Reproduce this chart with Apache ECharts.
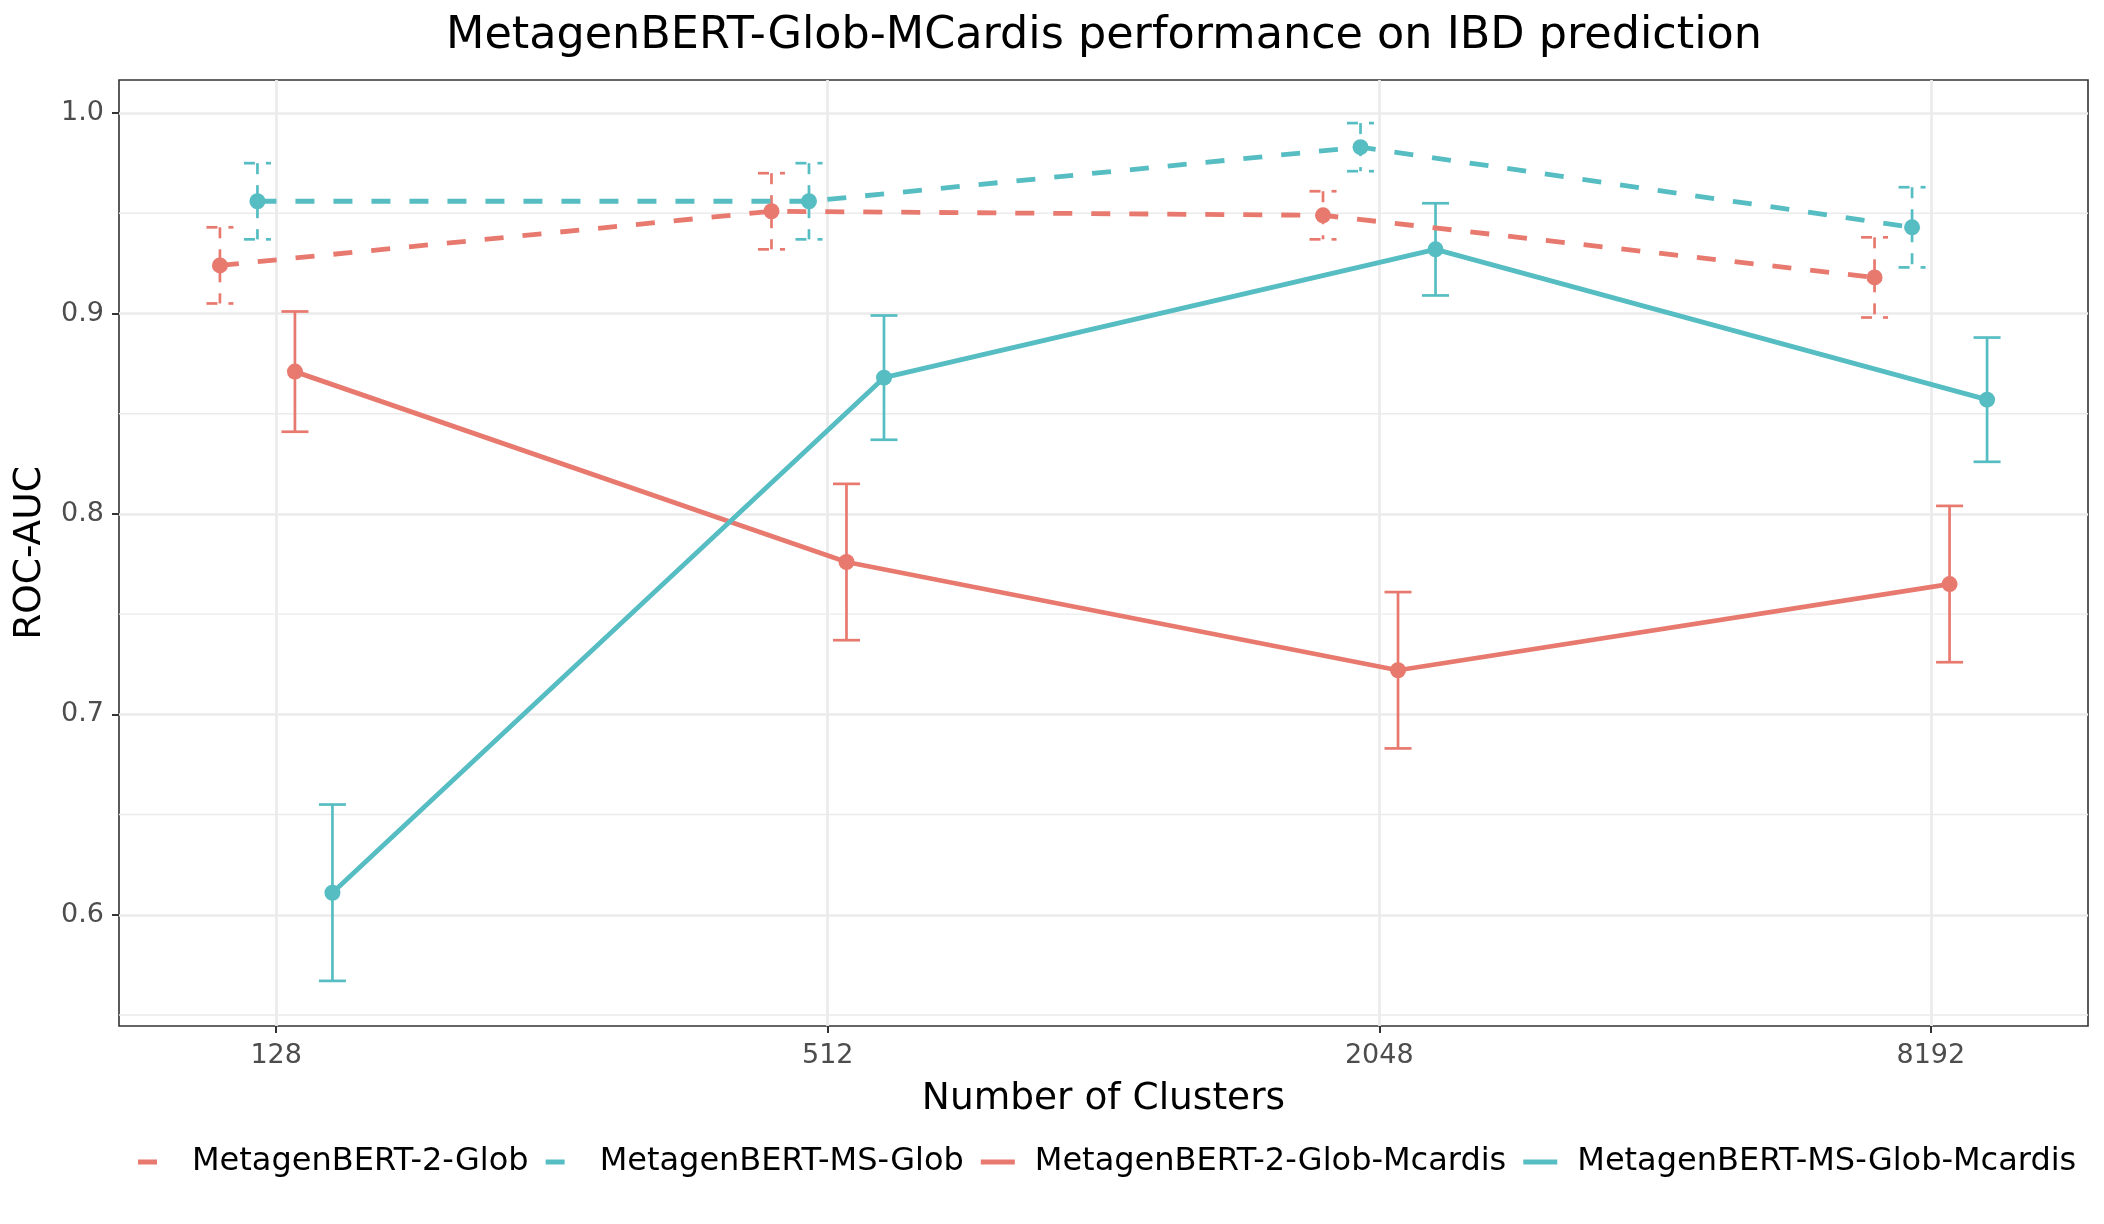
<!DOCTYPE html>
<html><head><meta charset="utf-8">
<script src="https://cdn.jsdelivr.net/npm/echarts@6.0.0/dist/echarts.min.js"></script>
<style>html,body{margin:0;padding:0;background:#fff}#c{width:2104px;height:1224px}</style>
</head><body><div id="c"></div>
<script>
// ---------- data ----------
const categories = ['128', '512', '2048', '8192'];
const yTicks = [0.6, 0.7, 0.8, 0.9, 1.0];
const yMinorTicks = [0.55, 0.65, 0.75, 0.85, 0.95];
const seriesNames = ['MetagenBERT-2-Glob', 'MetagenBERT-MS-Glob', 'MetagenBERT-2-Glob-Mcardis', 'MetagenBERT-MS-Glob-Mcardis'];
const mean2Glob = [0.924, 0.951, 0.949, 0.918];
const err2Glob = [0.019, 0.019, 0.012, 0.020];
const meanMSGlob = [0.956, 0.956, 0.983, 0.943];
const errMSGlob = [0.019, 0.019, 0.012, 0.020];
const mean2GlobMcardis = [0.871, 0.776, 0.722, 0.765];
const err2GlobMcardis = [0.030, 0.039, 0.039, 0.039];
const meanMSGlobMcardis = [0.611, 0.868, 0.932, 0.857];
const errMSGlobMcardis = [0.044, 0.031, 0.023, 0.031];

// ---------- style ----------
const RED = '#E8796F', TEAL = '#56BDC2';
const styles = [
  { color: RED, dashed: true, offset: -0.102 },
  { color: TEAL, dashed: true, offset: -0.034 },
  { color: RED, dashed: false, offset: 0.034 },
  { color: TEAL, dashed: false, offset: 0.102 }
];
const means = [mean2Glob, meanMSGlob, mean2GlobMcardis, meanMSGlobMcardis];
const errs = [err2Glob, errMSGlob, err2GlobMcardis, errMSGlobMcardis];
const FONT = 'DejaVu Sans';

function errorBarRender(dashed, color) {
  return function (params, api) {
    const x = api.value(0), lo = api.value(1), hi = api.value(2);
    const pHi = api.coord([x, hi]), pLo = api.coord([x, lo]);
    const hw = 13.5;
    const style = { stroke: color, lineWidth: 2.7, fill: null, lineDash: dashed ? [11, 11] : null };
    return { type: 'group', children: [
      { type: 'line', shape: { x1: pHi[0] - hw, y1: pHi[1], x2: pHi[0] + hw, y2: pHi[1] }, style: style },
      { type: 'line', shape: { x1: pHi[0], y1: pHi[1], x2: pLo[0], y2: pLo[1] }, style: style },
      { type: 'line', shape: { x1: pLo[0] - hw, y1: pLo[1], x2: pLo[0] + hw, y2: pLo[1] }, style: style }
    ]};
  };
}

const series = [];
// minor horizontal grid lines
series.push({
  type: 'custom', silent: true, z: 0,
  data: yMinorTicks.map(v => [0, v]),
  renderItem: function (params, api) {
    const cs = params.coordSys;
    const y = api.coord([0, api.value(1)])[1];
    return { type: 'line', shape: { x1: cs.x, y1: y, x2: cs.x + cs.width, y2: y }, style: { stroke: '#ebebeb', lineWidth: 1.4 } };
  }
});
seriesNames.forEach((name, k) => {
  const st = styles[k];
  series.push({
    name: name, type: 'custom', z: 2, silent: true,
    data: categories.map((c, i) => [i + st.offset, means[k][i] - errs[k][i], means[k][i] + errs[k][i]]),
    renderItem: errorBarRender(st.dashed, st.color)
  });
  series.push({
    name: name, type: 'line', z: 3,
    data: categories.map((c, i) => [i + st.offset, means[k][i]]),
    symbol: 'circle', symbolSize: 16,
    itemStyle: { color: st.color, borderWidth: 0 },
    lineStyle: { color: st.color, width: 4.8, type: st.dashed ? [19, 19] : 'solid' }
  });
});

const dashIcon = 'path://M0,0H19V5H0Z M49,0H49V5H49Z';
const solidIcon = 'path://M0,0H34V5H0Z M49,0H49V5H49Z';

const option = {
  backgroundColor: '#ffffff',
  animation: false,
  textStyle: { fontFamily: FONT },
  graphic: [{
    type: 'text', x: 1104, y: 36,
    style: { text: 'MetagenBERT-Glob-MCardis performance on IBD prediction', font: '44.5px "DejaVu Sans"', fill: '#000', textAlign: 'center', textVerticalAlign: 'middle' }
  }],
  grid: { left: 119, right: 16, top: 80, bottom: 198, show: true, borderColor: '#333333', borderWidth: 1.6, backgroundColor: 'transparent', containLabel: false },
  legend: {
    top: 1141, left: 133, right: 0,
    orient: 'horizontal',
    itemWidth: 49, itemHeight: 5, itemGap: 17,
    itemStyle: { borderWidth: 0 },
    textStyle: { fontFamily: FONT, fontSize: 32, color: '#000' },
    data: seriesNames.map((n, k) => ({ name: n, icon: styles[k].dashed ? dashIcon : solidIcon, itemStyle: { color: styles[k].color } }))
  },
  xAxis: {
    type: 'value', min: -0.285, max: 3.285,
    name: 'Number of Clusters', nameLocation: 'middle', nameGap: 54,
    nameTextStyle: { fontFamily: FONT, fontSize: 37.5, color: '#000' },
    axisLine: { show: false, onZero: false },
    axisTick: { show: true, customValues: [0, 1, 2, 3], length: 7, lineStyle: { color: '#333333', width: 2 } },
    axisLabel: { customValues: [0, 1, 2, 3], formatter: v => categories[Math.round(v)], fontFamily: FONT, fontSize: 27, color: '#4d4d4d', margin: 16 },
    splitLine: { show: true, lineStyle: { color: '#ebebeb', width: 2.7 } }
  },
  yAxis: {
    type: 'value', min: 0.5445, max: 1.0165,
    name: 'ROC-AUC', nameLocation: 'middle', nameGap: 70, nameRotate: 90,
    nameTextStyle: { fontFamily: FONT, fontSize: 37.5, color: '#000' },
    axisLine: { show: false, onZero: false },
    axisTick: { show: true, customValues: yTicks, length: 7, lineStyle: { color: '#333333', width: 2 } },
    axisLabel: { customValues: yTicks, formatter: v => v.toFixed(1), fontFamily: FONT, fontSize: 27, color: '#4d4d4d', margin: 15 },
    splitLine: { show: true, lineStyle: { color: '#ebebeb', width: 2.7 } }
  },
  series: series
};
const chart = echarts.init(document.getElementById('c'));
chart.setOption(option);
</script></body></html>
